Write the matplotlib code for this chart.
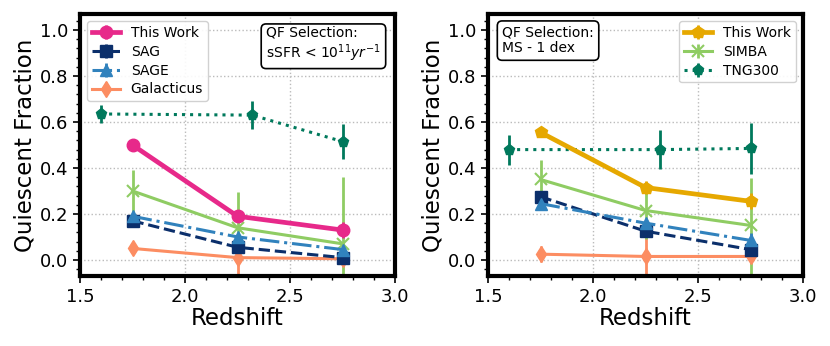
import numpy as np
import matplotlib
matplotlib.use("Agg")
import matplotlib.pyplot as plt
from matplotlib.ticker import MultipleLocator

# ---------- data ----------
z = [1.75, 2.25, 2.75]
z_tng = [1.60, 2.32, 2.75]

# left panel: sSFR selection
tw_l = [0.50, 0.19, 0.13];       tw_l_err = [0.01, 0.02, 0.035]
sag_l = [0.17, 0.055, 0.01];     sag_l_err = [0.01, 0.015, 0.015]
sage_l = [0.19, 0.10, 0.045];    sage_l_err = [0.01, 0.015, 0.02]
gal_l = [0.05, 0.01, 0.005];     gal_l_err = [[0.02, 0.10, 0.01], [0.02, 0.02, 0.01]]
simba_l = [0.30, 0.14, 0.07];    simba_l_err = [[0.09, 0.16, 0.30], [0.09, 0.155, 0.29]]
tng_l = [0.635, 0.63, 0.515];    tng_l_err = [0.04, 0.06, 0.075]

# right panel: MS - 1 dex selection
tw_r = [0.555, 0.315, 0.255];    tw_r_err = [0.015, 0.03, 0.035]
sag_r = [0.275, 0.125, 0.045];   sag_r_err = [0.02, 0.02, 0.05]
sage_r = [0.245, 0.16, 0.085];   sage_r_err = [0.015, 0.02, 0.03]
gal_r = [0.025, 0.015, 0.015];   gal_r_err = [[0.035, 0.10, 0.01], [0.035, 0.12, 0.01]]
simba_r = [0.35, 0.215, 0.15];   simba_r_err = [[0.085, 0.125, 0.25], [0.085, 0.125, 0.205]]
tng_r = [0.48, 0.48, 0.485];     tng_r_err = [0.065, 0.085, 0.11]

C = {"tw_l": "#e7298a", "tw_r": "#e6a800", "sag": "#0b2f6b", "sage": "#3182bd",
     "gal": "#fc8d62", "simba": "#8fcc63", "tng": "#00795c"}

plt.rcParams.update({"font.family": "DejaVu Sans"})
fig = plt.figure(figsize=(8.3, 3.46), dpi=100)
axL = fig.add_axes([80/830, 70/346, 315/830, 262/346])
axR = fig.add_axes([488/830, 70/346, 315/830, 262/346])


def draw(ax, x, y, err, color, marker, ls, lw, ms, label, mew=1.0):
    ax.errorbar(x, y, yerr=err, color=color, marker=marker, ls=ls, lw=lw, ms=ms,
                elinewidth=2, mew=mew, label=label, capsize=0)


def style(ax):
    ax.set_xlim(1.5, 3.0); ax.set_ylim(-0.07, 1.07)
    ax.xaxis.set_major_locator(MultipleLocator(0.5)); ax.xaxis.set_minor_locator(MultipleLocator(0.1))
    ax.yaxis.set_major_locator(MultipleLocator(0.2)); ax.yaxis.set_minor_locator(MultipleLocator(0.04))
    ax.tick_params(which="major", length=5, width=1.2, labelsize=13)
    ax.tick_params(which="minor", length=3, width=1.0)
    ax.grid(True, ls=":", color="#bbbbbb", lw=1)
    for s in ax.spines.values():
        s.set_linewidth(3)
    ax.set_xlabel("Redshift", fontsize=16.5, labelpad=1)
    ax.set_ylabel("Quiescent Fraction", fontsize=16.5, labelpad=2)


# left
draw(axL, z_tng, tng_l, tng_l_err, C["tng"], "p", ":", 2.2, 8, None)
draw(axL, z, gal_l, gal_l_err, C["gal"], "d", "-", 2.2, 8, "Galacticus")
draw(axL, z, simba_l, simba_l_err, C["simba"], "x", "-", 2.2, 8, None, mew=1.5)
draw(axL, z, sag_l, sag_l_err, C["sag"], "s", "--", 2.2, 8, "SAG")
draw(axL, z, sage_l, sage_l_err, C["sage"], "^", "-.", 2.2, 8, "SAGE")
draw(axL, z, tw_l, tw_l_err, C["tw_l"], "o", "-", 3.4, 9, "This Work")
style(axL)
h, l = axL.get_legend_handles_labels()
order = [l.index(n) for n in ["This Work", "SAG", "SAGE", "Galacticus"]]
axL.legend([h[i] for i in order], [l[i] for i in order], loc="upper left", fontsize=10,
           handlelength=2.0, borderpad=0.35, labelspacing=0.35, handletextpad=0.8,
           framealpha=0.9)
axL.text(0.955, 0.955, "QF Selection:\nsSFR < $10^{11}yr^{-1}$", transform=axL.transAxes,
         ha="right", va="top", ma="left", fontsize=10, linespacing=1.15,
         bbox=dict(boxstyle="round,pad=0.35", fc="white", ec="black", lw=1.2))

# right
draw(axR, z_tng, tng_r, tng_r_err, C["tng"], "p", ":", 2.2, 8, "TNG300")
draw(axR, z, gal_r, gal_r_err, C["gal"], "d", "-", 2.2, 8, None)
draw(axR, z, simba_r, simba_r_err, C["simba"], "x", "-", 2.2, 8, "SIMBA", mew=1.5)
draw(axR, z, sag_r, sag_r_err, C["sag"], "s", "--", 2.2, 8, None)
draw(axR, z, sage_r, sage_r_err, C["sage"], "^", "-.", 2.2, 8, None)
draw(axR, z, tw_r, tw_r_err, C["tw_r"], "p", "-", 3.4, 9, "This Work")
style(axR)
h, l = axR.get_legend_handles_labels()
order = [l.index(n) for n in ["This Work", "SIMBA", "TNG300"]]
axR.legend([h[i] for i in order], [l[i] for i in order], loc="upper right", fontsize=10,
           handlelength=2.0, borderpad=0.35, labelspacing=0.35, handletextpad=0.8,
           framealpha=0.9)
axR.text(0.045, 0.955, "QF Selection:\nMS - 1 dex", transform=axR.transAxes,
         ha="left", va="top", ma="left", fontsize=10, linespacing=1.15,
         bbox=dict(boxstyle="round,pad=0.35", fc="white", ec="black", lw=1.2))

fig.savefig("out.png", dpi=100)
